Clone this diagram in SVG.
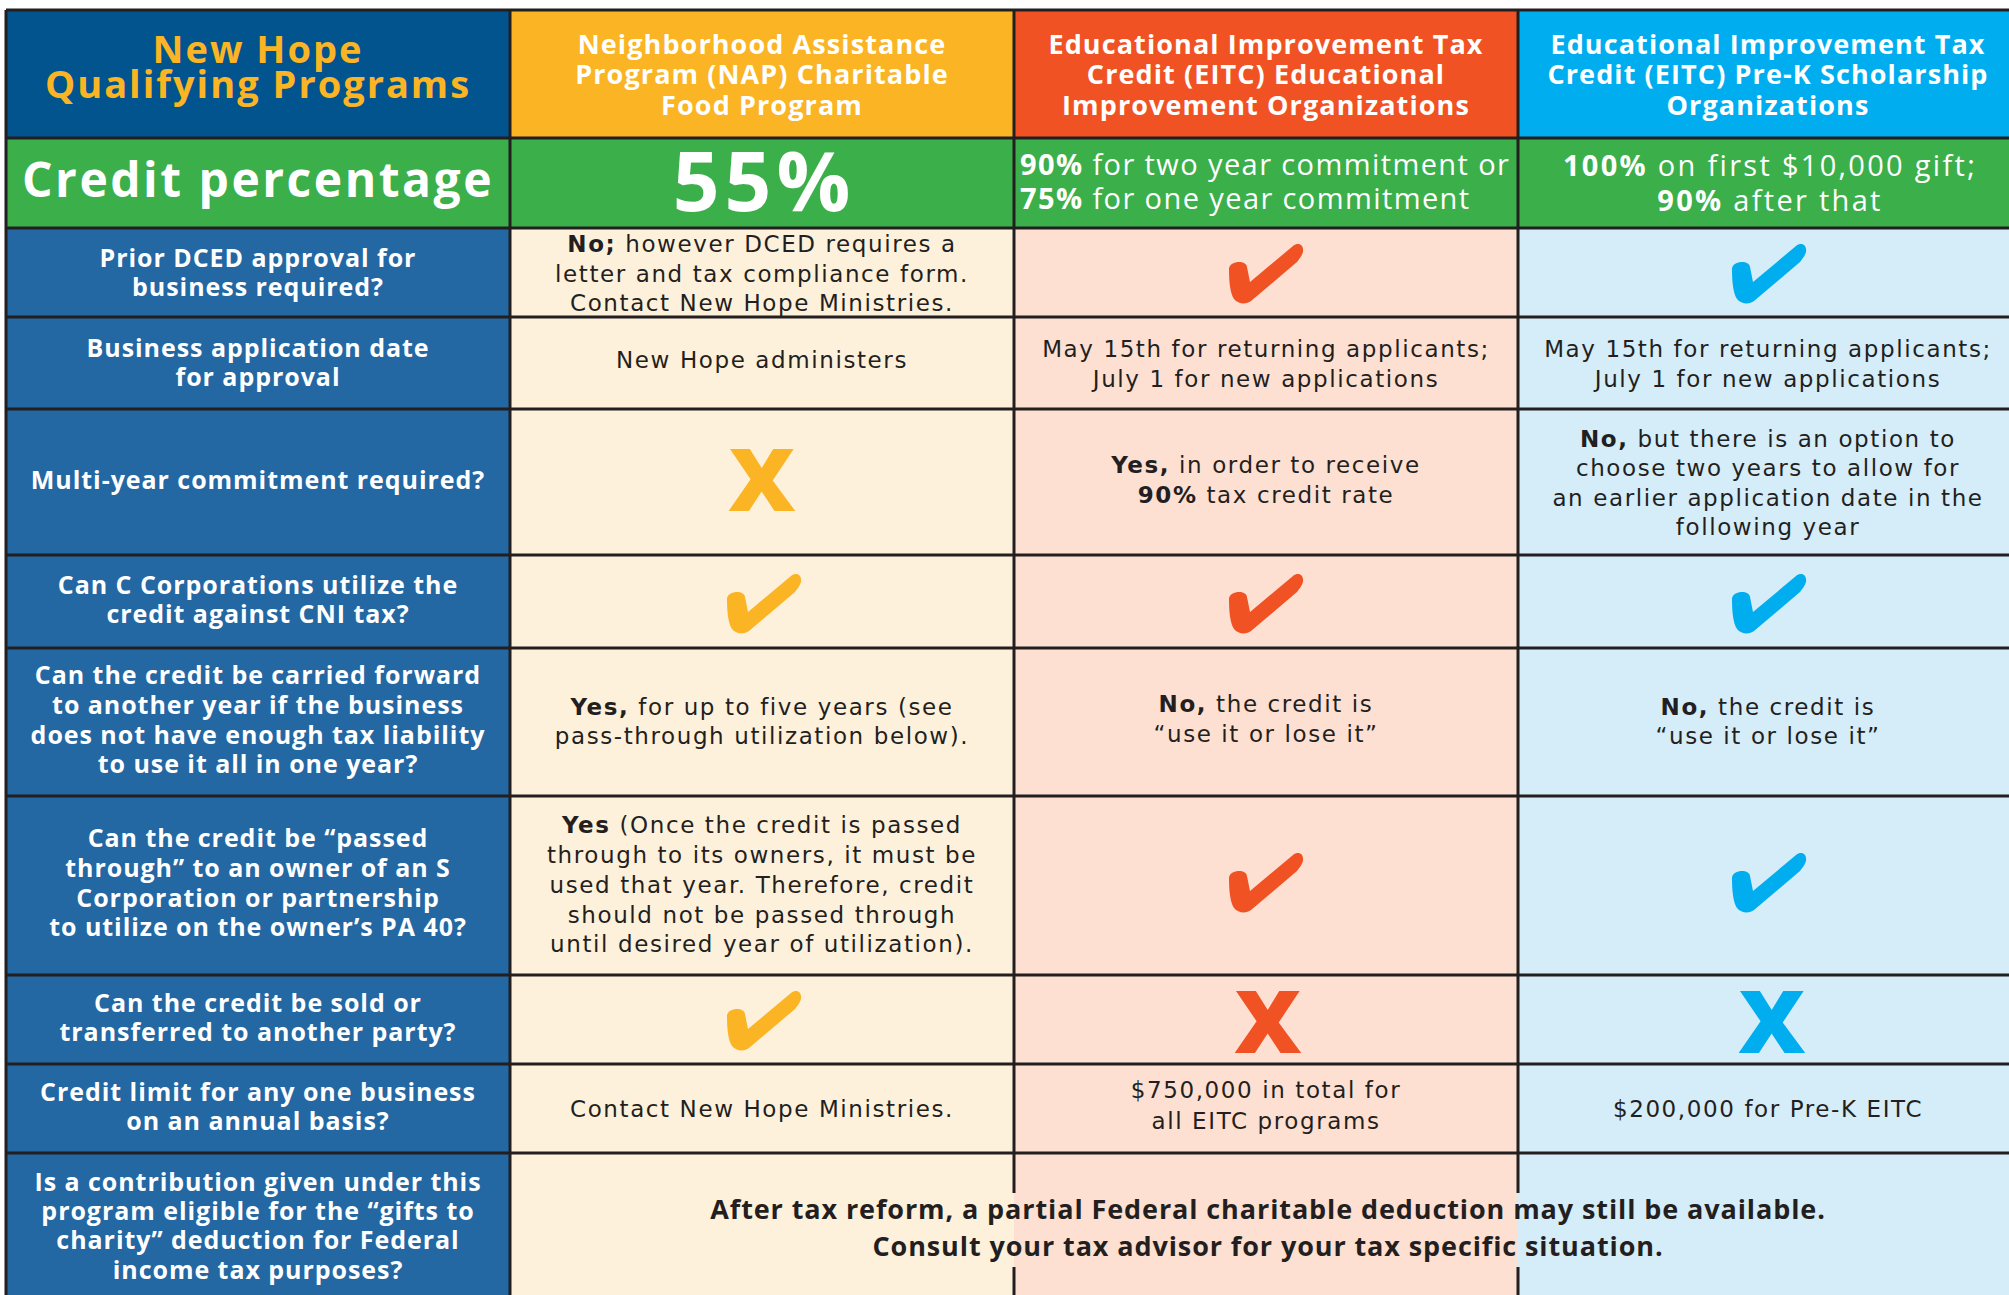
<svg xmlns="http://www.w3.org/2000/svg" width="2009" height="1295" viewBox="0 0 2009 1295">
<style>
text{font-family:"Open Sans","Liberation Sans",sans-serif;text-anchor:middle}
.hq{font-size:38px;font-weight:700;fill:#FBB424;letter-spacing:2px}
.hh{font-size:27px;font-weight:700;fill:#fff;letter-spacing:1.1px}
.cp{font-size:48px;font-weight:700;fill:#fff;letter-spacing:2.5px}
.big{font-size:82px;font-weight:700;fill:#fff;letter-spacing:5px}
.cr{font-size:29px;fill:#fff;letter-spacing:1.4px}
.cr2{font-size:29px;fill:#fff;letter-spacing:2.3px}
.q{font-size:25px;font-weight:700;fill:#fff;letter-spacing:0.95px}
.b{font-family:"DejaVu Sans","Open Sans",sans-serif;font-size:23px;fill:#231F20;letter-spacing:1.6px}
.fn{font-size:27px;font-weight:700;fill:#231F20;letter-spacing:0.9px}
.x{font-size:86px;font-weight:800}
.bd{font-weight:700}
.grid{stroke:#231F20;stroke-width:3;fill:none}
</style>
<defs>
<path id="check" d="M0 26C0 18 17 16 18 24L21 39L64 3C69 -1 75 1 74 9C73 13 70 16 68 19L22 58C17 62 9 61 5 56C1 50 0 38 0 26Z"/>
</defs>
<rect width="2009" height="1295" fill="#fff"/>
<g id="backgrounds">
<rect x="6" y="10" width="504" height="128" fill="#02548E"/>
<rect x="510" y="10" width="504" height="128" fill="#FBB424"/>
<rect x="1014" y="10" width="504" height="128" fill="#F15223"/>
<rect x="1518" y="10" width="491" height="128" fill="#00AEEF"/>
<rect x="6" y="138" width="2003" height="90" fill="#3BAF4A"/>
<rect x="6" y="228" width="504" height="1067" fill="#2367A3"/>
<rect x="510" y="228" width="504" height="1067" fill="#FEF1DC"/>
<rect x="1014" y="228" width="504" height="1067" fill="#FDE0D2"/>
<rect x="1518" y="228" width="491" height="1067" fill="#D5ECF9"/>
</g>
<g id="connectors" class="grid">
<path d="M6 10H2009M6 138H2009M6 228H2009M6 317H2009M6 409H2009M6 555H2009M6 648H2009M6 796H2009M6 975H2009M6 1064H2009M6 1153H2009"/>
<path d="M6 10V1295M510 10V1295M1014 10V1193M1014 1267V1295M1518 10V1193M1518 1267V1295"/>
</g>
<g id="header-programs"><text class="hq" x="258" y="63">New Hope</text><text class="hq" x="258" y="98">Qualifying Programs</text></g>
<g id="header-nap"><text class="hh" x="762" y="54">Neighborhood Assistance</text><text class="hh" x="762" y="84">Program (NAP) Charitable</text><text class="hh" x="762" y="115">Food Program</text></g>
<g id="header-eitc-eio"><text class="hh" x="1266" y="54">Educational Improvement Tax</text><text class="hh" x="1266" y="84">Credit (EITC) Educational</text><text class="hh" x="1266" y="115">Improvement Organizations</text></g>
<g id="header-eitc-prek"><text class="hh" x="1768" y="54">Educational Improvement Tax</text><text class="hh" x="1768" y="84">Credit (EITC) Pre-K Scholarship</text><text class="hh" x="1768" y="115">Organizations</text></g>

<g id="credit-label"><text class="cp" x="258" y="197">Credit percentage</text></g>
<g id="credit-nap"><text class="big" x="764" y="211">55%</text></g>
<g id="credit-eio"><text class="cr" x="1020" y="175" style="text-anchor:start"><tspan class="bd">90%</tspan> for two year commitment or</text><text class="cr" x="1020" y="209" style="text-anchor:start"><tspan class="bd">75%</tspan> for one year commitment</text></g>
<g id="credit-prek"><text class="cr2" x="1770" y="176"><tspan class="bd">100%</tspan> on first $10,000 gift;</text><text class="cr2" x="1770" y="211"><tspan class="bd">90%</tspan> after that</text></g>

<g id="q-approval"><text class="q" x="258" y="267">Prior DCED approval for</text><text class="q" x="258" y="296">business required?</text></g>
<g id="a-approval-nap"><text class="b" x="762" y="252"><tspan class="bd">No;</tspan> however DCED requires a</text><text class="b" x="762" y="282">letter and tax compliance form.</text><text class="b" x="762" y="311">Contact New Hope Ministries.</text></g>
<g id="a-approval-eio"><use href="#check" x="1229" y="243" fill="#F15223"/></g>
<g id="a-approval-prek"><use href="#check" x="1732" y="243" fill="#00AEEF"/></g>

<g id="q-date"><text class="q" x="258" y="357">Business application date</text><text class="q" x="258" y="386">for approval</text></g>
<g id="a-date-nap"><text class="b" x="762" y="368">New Hope administers</text></g>
<g id="a-date-eio"><text class="b" x="1266" y="357">May 15th for returning applicants;</text><text class="b" x="1266" y="387">July 1 for new applications</text></g>
<g id="a-date-prek"><text class="b" x="1768" y="357">May 15th for returning applicants;</text><text class="b" x="1768" y="387">July 1 for new applications</text></g>

<g id="q-multi"><text class="q" x="258" y="489">Multi-year commitment required?</text></g>
<g id="a-multi-nap"><text class="x" x="762" y="511" fill="#FBB424" textLength="67" lengthAdjust="spacingAndGlyphs">X</text></g>
<g id="a-multi-eio"><text class="b" x="1266" y="473"><tspan class="bd">Yes,</tspan> in order to receive</text><text class="b" x="1266" y="503"><tspan class="bd">90%</tspan> tax credit rate</text></g>
<g id="a-multi-prek"><text class="b" x="1768" y="447"><tspan class="bd">No,</tspan> but there is an option to</text><text class="b" x="1768" y="476">choose two years to allow for</text><text class="b" x="1768" y="506">an earlier application date in the</text><text class="b" x="1768" y="535">following year</text></g>

<g id="q-ccorp"><text class="q" x="258" y="594">Can C Corporations utilize the</text><text class="q" x="258" y="623">credit against CNI tax?</text></g>
<g id="a-ccorp-nap"><use href="#check" x="727" y="573" fill="#FBB424"/></g>
<g id="a-ccorp-eio"><use href="#check" x="1229" y="573" fill="#F15223"/></g>
<g id="a-ccorp-prek"><use href="#check" x="1732" y="573" fill="#00AEEF"/></g>

<g id="q-carry"><text class="q" x="258" y="684">Can the credit be carried forward</text><text class="q" x="258" y="714">to another year if the business</text><text class="q" x="258" y="744">does not have enough tax liability</text><text class="q" x="258" y="773">to use it all in one year?</text></g>
<g id="a-carry-nap"><text class="b" x="762" y="715"><tspan class="bd">Yes,</tspan> for up to five years (see</text><text class="b" x="762" y="744">pass-through utilization below).</text></g>
<g id="a-carry-eio"><text class="b" x="1266" y="712"><tspan class="bd">No,</tspan> the credit is</text><text class="b" x="1266" y="742">“use it or lose it”</text></g>
<g id="a-carry-prek"><text class="b" x="1768" y="715"><tspan class="bd">No,</tspan> the credit is</text><text class="b" x="1768" y="744">“use it or lose it”</text></g>

<g id="q-pass"><text class="q" x="258" y="847">Can the credit be “passed</text><text class="q" x="258" y="877">through” to an owner of an S</text><text class="q" x="258" y="907">Corporation or partnership</text><text class="q" x="258" y="936">to utilize on the owner’s PA 40?</text></g>
<g id="a-pass-nap"><text class="b" x="762" y="833"><tspan class="bd">Yes</tspan> (Once the credit is passed</text><text class="b" x="762" y="863">through to its owners, it must be</text><text class="b" x="762" y="893">used that year. Therefore, credit</text><text class="b" x="762" y="923">should not be passed through</text><text class="b" x="762" y="952">until desired year of utilization).</text></g>
<g id="a-pass-eio"><use href="#check" x="1229" y="852" fill="#F15223"/></g>
<g id="a-pass-prek"><use href="#check" x="1732" y="852" fill="#00AEEF"/></g>

<g id="q-sold"><text class="q" x="258" y="1012">Can the credit be sold or</text><text class="q" x="258" y="1041">transferred to another party?</text></g>
<g id="a-sold-nap"><use href="#check" x="727" y="990" fill="#FBB424"/></g>
<g id="a-sold-eio"><text class="x" x="1268" y="1053" fill="#F15223" textLength="67" lengthAdjust="spacingAndGlyphs">X</text></g>
<g id="a-sold-prek"><text class="x" x="1772" y="1053" fill="#00AEEF" textLength="67" lengthAdjust="spacingAndGlyphs">X</text></g>

<g id="q-limit"><text class="q" x="258" y="1101">Credit limit for any one business</text><text class="q" x="258" y="1130">on an annual basis?</text></g>
<g id="a-limit-nap"><text class="b" x="762" y="1117">Contact New Hope Ministries.</text></g>
<g id="a-limit-eio"><text class="b" x="1266" y="1098">$750,000 in total for</text><text class="b" x="1266" y="1129">all EITC programs</text></g>
<g id="a-limit-prek"><text class="b" x="1768" y="1117">$200,000 for Pre-K EITC</text></g>

<g id="q-gifts"><text class="q" x="258" y="1191">Is a contribution given under this</text><text class="q" x="258" y="1220">program eligible for the “gifts to</text><text class="q" x="258" y="1249">charity” deduction for Federal</text><text class="q" x="258" y="1279">income tax purposes?</text></g>
<g id="a-gifts"><text class="fn" x="1268" y="1219">After tax reform, a partial Federal charitable deduction may still be available.</text><text class="fn" x="1268" y="1256">Consult your tax advisor for your tax specific situation.</text></g>
</svg>
